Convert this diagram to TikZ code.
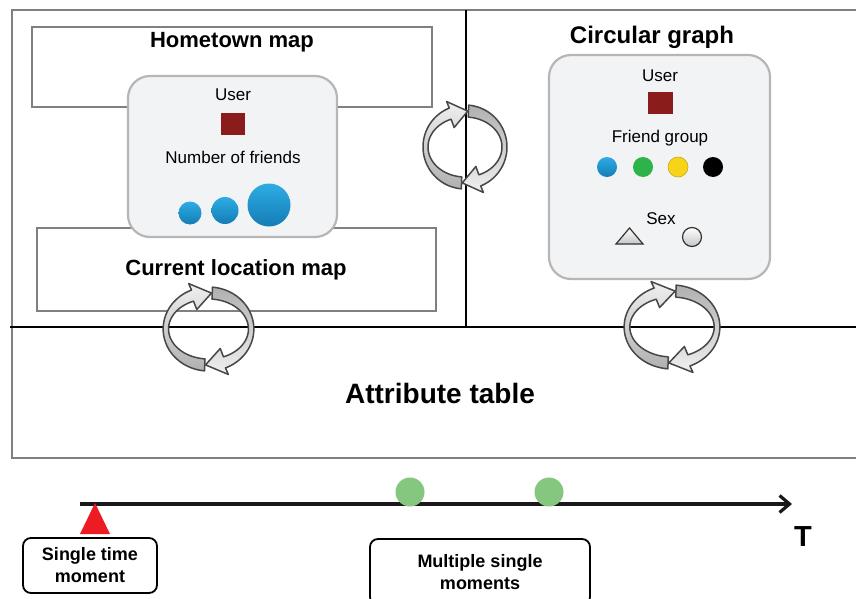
\documentclass[tikz,border=0pt]{standalone}
\usepackage{fontspec}
\setmainfont{Liberation Sans}
\usetikzlibrary{arrows.meta,shapes.geometric}
\definecolor{boxgray}{RGB}{128,128,128}
\definecolor{panelborder}{RGB}{182,182,182}
\definecolor{panelfill}{RGB}{242,243,245}
\definecolor{userred}{RGB}{139,28,28}
\definecolor{bluetop}{RGB}{46,172,228}
\definecolor{bluebot}{RGB}{20,124,181}
\definecolor{fgreen}{RGB}{45,179,74}
\definecolor{fyellow}{RGB}{247,212,23}
\definecolor{tred}{RGB}{237,28,36}
\definecolor{tgreen}{RGB}{133,199,126}
\tikzset{
  cycbase/.style={draw=black!72, line width=1.5pt, line join=round},
  cycL/.style={cycbase, top color=gray!12, bottom color=gray!62},
  cycR/.style={cycbase, top color=gray!62, bottom color=gray!12},
  cyc/.pic={
    \path[cycL] plot[domain=95:248,samples=40] ({42*cos(\x)},{42*sin(\x)})
      -- ({49*cos(248)},{49*sin(248)})
      -- ({39.5*cos(274)},{36*sin(274)})
      -- ({29*cos(248)},{21*sin(248)})
      -- plot[domain=248:95,samples=40] ({37*cos(\x)},{30*sin(\x)}) -- cycle;
    \path[cycR] plot[domain=275:428,samples=40] ({42*cos(\x)},{42*sin(\x)})
      -- ({49*cos(428)},{49*sin(428)})
      -- ({39.5*cos(454)},{36*sin(454)})
      -- ({29*cos(428)},{21*sin(428)})
      -- plot[domain=428:275,samples=40] ({37*cos(\x)},{30*sin(\x)}) -- cycle;
  }
}
\begin{document}
\begin{tikzpicture}[x=1pt,y=-1pt,
  graybox/.style={draw=boxgray, line width=1.8pt},
  panel/.style={draw=panelborder, line width=2.2pt, fill=panelfill, rounded corners=22pt},
  divider/.style={draw=black, line width=1.2pt},
  title/.style={font=\bfseries\fontsize{22}{26}\selectfont, inner sep=0pt},
  lbl/.style={font=\fontsize{17}{20}\selectfont, inner sep=0pt},
  ball/.style={circle, inner sep=0pt, top color=bluetop, bottom color=bluebot},
  dot/.style={circle, inner sep=0pt, minimum size=20pt},
  usersq/.style={fill=userred, inner sep=0pt, minimum width=24pt, minimum height=22pt},
  tbox/.style={draw=black, line width=1.8pt, rounded corners=8pt, align=center,
    font=\bfseries\fontsize{18}{22}\selectfont, inner sep=0pt},
]
\useasboundingbox (0,0) rectangle (856,599);
\clip (0,0) rectangle (856,599);
\fill[white] (0,0) rectangle (856,599);

% outer frame and dividers
\draw[graybox] (12,10) rectangle (880,458);
\coordinate (vtop) at (466,10);
\coordinate (vbot) at (466,327);
\coordinate (hl) at (10,327);
\coordinate (hr) at (856,327);
\draw[divider] (vtop) -- (vbot);
\draw[divider] (hl) -- (hr);

% map boxes
\draw[graybox] (32,27) rectangle (432,107);
\draw[graybox] (37,228) rectangle (436,311);
\node[title] (ht) at (232,42) {Hometown map};
\node[title] (cl) at (236,270) {Current location map};

% left panel
\draw[panel] (128,76) rectangle (337,237);
\node[lbl] (user1) at (233,95) {User};
\node[usersq] (sq1) at (233,124) {};
\node[lbl] (nof) at (233,157) {Number of friends};
\node[ball, minimum size=23pt] (b1) at (190,213) {};
\node[ball, minimum size=27pt] (b2) at (225,210.5) {};
\node[ball, minimum size=43pt] (b3) at (269,205) {};

% circular graph
\node[font=\bfseries\fontsize{24}{28}\selectfont, inner sep=0pt] (cg) at (652,37) {Circular graph};
\draw[panel] (549,55) rectangle (770,279);
\node[lbl] (user2) at (660,76) {User};
\node[usersq, minimum width=25pt, minimum height=22pt] (sq2) at (660,103) {};
\node[lbl] (fg) at (660,138) {Friend group};
\node[dot, top color=bluetop, bottom color=bluebot] (d1) at (607,167) {};
\node[dot, fill=fgreen] (d2) at (643,167) {};
\node[dot, fill=fyellow, draw=fyellow!80!black, line width=0.6pt] (d3) at (678,167) {};
\node[dot, fill=black] (d4) at (713,167) {};
\node[lbl] (sex) at (661,219) {Sex};
\draw[black!80, line width=1.2pt, top color=white, bottom color=gray!45] (616,244) -- (629.5,228) -- (643,244) -- cycle;
\node[circle, draw=black!80, line width=1.2pt, top color=white, bottom color=gray!45, minimum size=19pt, inner sep=0pt] (sx2) at (692,237) {};

% cycle arrows
\pic (cyc1) at (465,147) {cyc};
\pic[xscale=1.08] (cyc2) at (208.5,329) {cyc};
\pic[xscale=1.14] (cyc3) at (672,327) {cyc};

\node[font=\bfseries\fontsize{28}{32}\selectfont, inner sep=0pt] (at) at (440,393) {Attribute table};

% timeline
\coordinate (t0) at (80,504);
\coordinate (t1) at (792,504);
\draw[line width=3.2pt, black!90, -{Straight Barb[length=10pt,width=17pt]}] (t0) -- (t1);
\fill[tred] (80,534) -- (95,503) -- (110,534) -- cycle;
\node[circle, fill=tgreen, minimum size=29pt, inner sep=0pt] (g1) at (410,492) {};
\node[circle, fill=tgreen, minimum size=29pt, inner sep=0pt] (g2) at (549,492) {};
\node[font=\bfseries\fontsize{29}{32}\selectfont, inner sep=0pt] (T) at (803,537) {T};

\node[tbox, minimum width=134pt, minimum height=55pt] (stm) at (90,565.5) {Single time\\moment};
\node[tbox, minimum width=220pt, minimum height=66pt] (msm) at (480,572) {Multiple single\\moments};
\end{tikzpicture}
\end{document}
